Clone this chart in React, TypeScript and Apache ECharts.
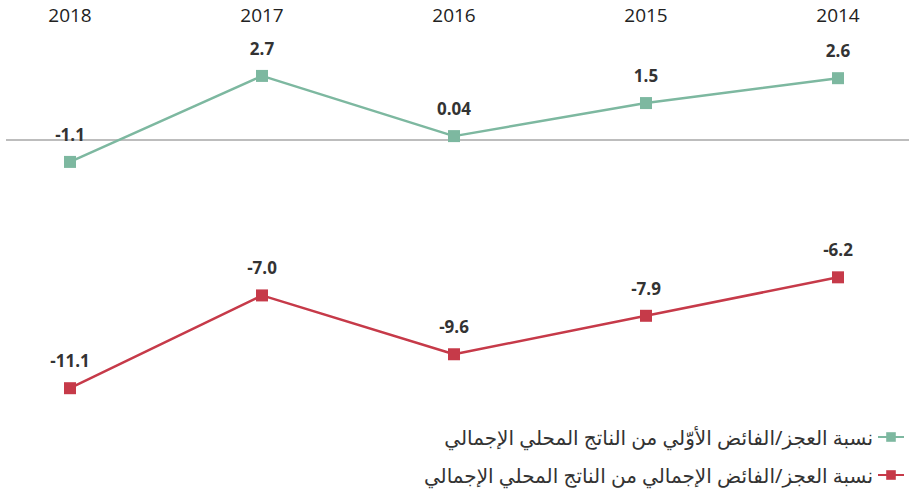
import React, { useEffect, useRef } from "react";
import * as echarts from "echarts";

const years = ["2018", "2017", "2016", "2015", "2014"];
const primaryName = "نسبة العجز/الفائض الأوّلي من الناتج المحلي الإجمالي";
const overallName = "نسبة العجز/الفائض الإجمالي من الناتج المحلي الإجمالي";
const primaryValues = [-1.1, 2.7, 0.04, 1.5, 2.6];
const overallValues = [-11.1, -7.0, -9.6, -7.9, -6.2];

const fmt = (v: number) => (Math.abs(v) < 1 && v !== 0 ? v.toFixed(2) : v.toFixed(1));

export default function App() {
  const ref = useRef<HTMLDivElement>(null);
  useEffect(() => {
    if (!ref.current) return;
    const chart = echarts.init(ref.current, null, { renderer: "svg" });
    const font = "'Noto Sans', 'DejaVu Sans', sans-serif";
    const labelCfg = {
      show: true,
      position: "top",
      distance: 13,
      fontWeight: "bold",
      fontSize: 17,
      color: "#333",
      fontFamily: "'Open Sans', 'Noto Sans', sans-serif",
      formatter: (p: any) => fmt(p.value),
    };
    const legendBase = {
      orient: "horizontal",
      right: 4,
      align: "right",
      itemWidth: 26,
      itemHeight: 12,
      itemGap: 6,
      padding: 0,
      textStyle: { color: "#333", fontSize: 20, fontFamily: font },
    };
    chart.setOption({
      animation: false,
      grid: { left: 70, right: 71, top: 46.5, bottom: 60.8 },
      xAxis: {
        type: "category",
        data: years,
        position: "top",
        boundaryGap: false,
        axisLine: { show: false },
        axisTick: { show: false },
        axisLabel: {
          color: "#222",
          fontSize: 19,
          fontFamily: "'Open Sans', sans-serif",
          margin: 22,
        },
      },
      yAxis: {
        type: "value",
        min: -13,
        max: 4,
        show: false,
        splitLine: { show: false },
      },
      legend: [
        { ...legendBase, top: 427, data: [primaryName] },
        { ...legendBase, top: 465, data: [overallName] },
      ],
      series: [
        {
          name: primaryName,
          type: "line",
          data: primaryValues,
          symbol: "rect",
          symbolSize: 12,
          color: "#7db8a0",
          lineStyle: { width: 2.5, color: "#7db8a0" },
          itemStyle: { color: "#7db8a0" },
          label: labelCfg,
          z: 3,
        },
        {
          name: overallName,
          type: "line",
          data: overallValues,
          symbol: "rect",
          symbolSize: 12,
          color: "#c63a49",
          lineStyle: { width: 2.5, color: "#c63a49" },
          itemStyle: { color: "#c63a49" },
          label: labelCfg,
          z: 3,
        },
      ],
    });
    const y0 = chart.convertToPixel({ yAxisIndex: 0 }, 0) as number;
    chart.setOption({
      graphic: [
        {
          type: "line",
          z: 1,
          shape: { x1: 6, y1: y0 + 3, x2: 909, y2: y0 + 3 },
          style: { stroke: "#bdbdbd", lineWidth: 2 },
        },
      ],
    });
    return () => chart.dispose();
  }, []);
  return (
    <div
      ref={ref}
      style={{ position: "absolute", left: 0, top: 0, width: 909, height: 492 }}
    />
  );
}
